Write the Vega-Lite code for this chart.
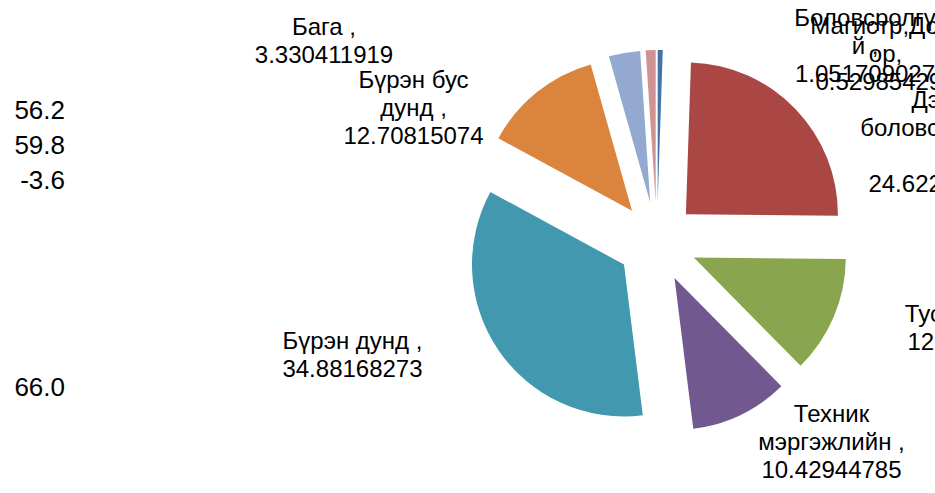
{
  "$schema": "https://vega.github.io/schema/vega-lite/v6.json",
  "width": 935,
  "height": 493,
  "autosize": {"type": "none"},
  "padding": 0,
  "background": "white",
  "config": {"view": {"stroke": null}, "text": {"font": "Liberation Sans", "color": "black"}},
  "datasets": {
    "pie": [
      {"cat": "Магистр, Доктор", "label": "Магистр,Докт\nор,\n0.529854294", "value": 0.529854294, "ord": 1},
      {"cat": "Дээд боловсролтой", "label": "Дээд\nболовсролтой\n ,\n24.62230061", "value": 24.62230061, "ord": 2},
      {"cat": "Тусгай дунд", "label": "Тусгай дунд ,\n12.44644338", "value": 12.44644338, "ord": 3},
      {"cat": "Техник мэргэжлийн", "label": "Техник\nмэргэжлийн ,\n10.42944785", "value": 10.42944785, "ord": 4},
      {"cat": "Бүрэн дунд", "label": "Бүрэн дунд ,\n34.88168273", "value": 34.88168273, "ord": 5},
      {"cat": "Бүрэн бус дунд", "label": "Бүрэн бус\nдунд ,\n12.70815074", "value": 12.70815074, "ord": 6},
      {"cat": "Бага", "label": "Бага ,\n3.330411919", "value": 3.330411919, "ord": 7},
      {"cat": "Боловсролгүй", "label": "Боловсролгү\nй ,\n1.051709027", "value": 1.051709027, "ord": 8}
    ],
    "cells": [
      {"cell": "56.2", "row": 1},
      {"cell": "59.8", "row": 2},
      {"cell": "-3.6", "row": 3},
      {"cell": "66.0", "row": 9}
    ]
  },
  "layer": [
    {
      "data": {"name": "pie"},
      "transform": [
        {"stack": "value", "groupby": [], "sort": [{"field": "ord", "order": "ascending"}], "as": ["v0", "v1"]}
      ],
      "encoding": {
        "theta": {"field": "v0", "type": "quantitative", "scale": {"domain": [0, 100], "zero": false, "nice": false}},
        "theta2": {"field": "v1"},
        "color": {
          "field": "cat", "type": "nominal", "legend": null,
          "scale": {
            "domain": ["Магистр, Доктор", "Дээд боловсролтой", "Тусгай дунд", "Техник мэргэжлийн", "Бүрэн дунд", "Бүрэн бус дунд", "Бага", "Боловсролгүй"],
            "range": ["#4572A7", "#AA4643", "#89A54E", "#71588F", "#4198AF", "#DB843D", "#93A9CF", "#D19392"]
          }
        }
      },
      "layer": [
        {"transform": [{"filter": "datum.ord == 1"}], "mark": {"type": "arc", "radius": 152, "xOffset": 190.2, "yOffset": -44.5}},
        {"transform": [{"filter": "datum.ord == 2"}], "mark": {"type": "arc", "radius": 152, "xOffset": 218.4, "yOffset": -32.2}},
        {"transform": [{"filter": "datum.ord == 3"}], "mark": {"type": "arc", "radius": 152, "xOffset": 226.3, "yOffset": 11.1}},
        {"transform": [{"filter": "datum.ord == 4"}], "mark": {"type": "arc", "radius": 152, "xOffset": 207.0, "yOffset": 31.5}},
        {"transform": [{"filter": "datum.ord == 5"}], "mark": {"type": "arc", "radius": 152, "xOffset": 156.5, "yOffset": 18.0}},
        {"transform": [{"filter": "datum.ord == 6"}], "mark": {"type": "arc", "radius": 152, "xOffset": 164.5, "yOffset": -35.7}},
        {"transform": [{"filter": "datum.ord == 7"}], "mark": {"type": "arc", "radius": 152, "xOffset": 182.7, "yOffset": -43.9}},
        {"transform": [{"filter": "datum.ord == 8"}], "mark": {"type": "arc", "radius": 152, "xOffset": 188.2, "yOffset": -44.5}}
      ]
    },
    {
      "data": {"name": "pie"},
      "encoding": {"text": {"field": "label"}},
      "layer": [
        {"transform": [{"filter": "datum.ord == 1"}], "mark": {"type": "text", "fontSize": 24, "lineHeight": 28, "lineBreak": "\n", "align": "center", "baseline": "middle", "xOffset": 418, "yOffset": -220}},
        {"transform": [{"filter": "datum.ord == 2"}], "mark": {"type": "text", "fontSize": 24, "lineHeight": 28, "lineBreak": "\n", "align": "center", "baseline": "middle", "xOffset": 471, "yOffset": -145.2}},
        {"transform": [{"filter": "datum.ord == 3"}], "mark": {"type": "text", "fontSize": 24, "lineHeight": 28, "lineBreak": "\n", "align": "center", "baseline": "middle", "xOffset": 510, "yOffset": 68}},
        {"transform": [{"filter": "datum.ord == 4"}], "mark": {"type": "text", "fontSize": 24, "lineHeight": 28, "lineBreak": "\n", "align": "center", "baseline": "middle", "xOffset": 364, "yOffset": 168.5}},
        {"transform": [{"filter": "datum.ord == 5"}], "mark": {"type": "text", "fontSize": 24, "lineHeight": 28, "lineBreak": "\n", "align": "center", "baseline": "middle", "xOffset": -115, "yOffset": 95.5}},
        {"transform": [{"filter": "datum.ord == 6"}], "mark": {"type": "text", "fontSize": 24, "lineHeight": 28, "lineBreak": "\n", "align": "center", "baseline": "middle", "xOffset": -54, "yOffset": -165.5}},
        {"transform": [{"filter": "datum.ord == 7"}], "mark": {"type": "text", "fontSize": 24, "lineHeight": 28, "lineBreak": "\n", "align": "center", "baseline": "middle", "xOffset": -143.5, "yOffset": -218.5}},
        {"transform": [{"filter": "datum.ord == 8"}], "mark": {"type": "text", "fontSize": 24, "lineHeight": 28, "lineBreak": "\n", "align": "center", "baseline": "middle", "xOffset": 397.5, "yOffset": -227.5}}
      ]
    },
    {
      "data": {"name": "cells"},
      "mark": {"type": "text", "fontSize": 26, "align": "right", "baseline": "middle"},
      "encoding": {
        "x": {"datum": 1, "type": "quantitative", "scale": {"domain": [0, 14.38], "zero": false, "nice": false}, "axis": null},
        "y": {"field": "row", "type": "quantitative", "scale": {"domain": [-2.2197, 12.029], "reverse": true, "zero": false, "nice": false}, "axis": null},
        "text": {"field": "cell"}
      }
    }
  ]
}
